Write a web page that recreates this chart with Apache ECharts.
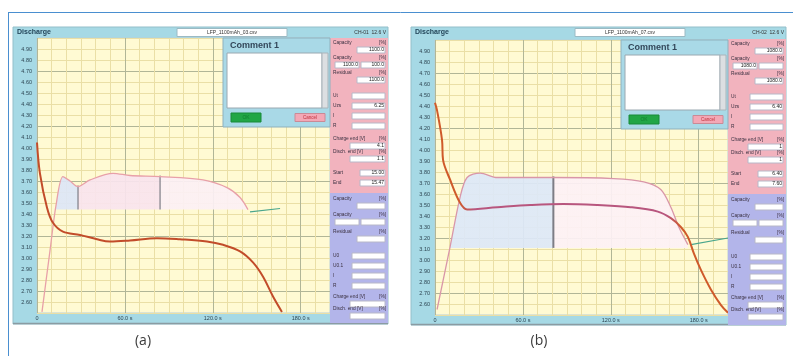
<!DOCTYPE html>
<html><head><meta charset="utf-8">
<script src="https://cdn.jsdelivr.net/npm/echarts@6/dist/echarts.min.js"></script>
<style>html,body{margin:0;padding:0;background:#fff}#c{width:793px;height:356px}</style>
</head><body><div id="c"></div>
<script>
// ---------------- data ----------------
const xMin = 0, xMax = 200, xStep = 10, xLabelStep = 60;
const yMin = 2.5, yMax = 5.0, yStep = 0.1;

// panel (a)
const aRedX = [0, 2, 6.8, 10.9, 17.7, 29.4, 41, 49.8, 63.5, 81.9, 97.6, 116, 127, 138.6, 147.4, 154.3, 161.1, 167.2];
const aRedV = [4.05, 3.77, 3.46, 3.32, 3.24, 3.21, 3.17, 3.15, 3.16, 3.18, 3.17, 3.15, 3.12, 3.06, 2.96, 2.83, 2.65, 2.51];
const aPinkX = [3.4, 8.9, 13.0, 17.7, 22.5, 28.0, 36.2, 51.9, 63.5, 84.0, 113.3, 129.7, 138.6, 144.0];
const aPinkV = [2.51, 3.07, 3.48, 3.74, 3.70, 3.65, 3.71, 3.77, 3.75, 3.74, 3.71, 3.64, 3.55, 3.44];
const aGreenX = [145.4, 165.9];
const aGreenV = [3.42, 3.45];
const aFillBase = 3.44;
const aCutX = [28.0, 84.0];
const aCutTopV = [3.66, 3.75];

// panel (b)
const bRedX = [0, 1.4, 4.8, 5.5, 10.3, 17.1, 21.9, 42.5, 65.1, 87.7, 111.0, 133.6, 152.1, 161.0, 167.8, 172.6, 176.7, 181.5, 188.4, 195.2, 200];
const bRedV = [4.43, 4.36, 4.09, 3.91, 3.73, 3.52, 3.46, 3.48, 3.50, 3.51, 3.50, 3.48, 3.44, 3.38, 3.30, 3.21, 3.06, 2.91, 2.73, 2.59, 2.52];
const bRedPlateau = [21.9, 163.0];
const bPinkX = [1.4, 10.3, 17.1, 21.9, 30.8, 42.5, 80.8, 121.9, 142.5, 154.1, 161.0, 166.4, 172.6];
const bPinkV = [2.55, 3.12, 3.57, 3.75, 3.79, 3.75, 3.75, 3.74, 3.71, 3.64, 3.48, 3.30, 3.14];
const bGreenX = [174.7, 200];
const bGreenV = [3.14, 3.20];
const bFillBase = 3.11;
const bCutX = [80.8];
const bCutTopV = [3.76];

// side-panel texts
const aTitle = ['Discharge', 'LFP_1100mAh_03.csv', 'CH-01  12.6 V'];
const bTitle = ['Discharge', 'LFP_1100mAh_07.csv', 'CH-02  12.6 V'];
const aSideVals = ['1100.0', '1100.0', '100.0', '1100.0', '', '6.25', '', '', '4.1', '1.1', '15.00', '15.47'];
const bSideVals = ['1080.0', '1080.0', '', '1080.0', '', '6.40', '', '', '1', '1', '6.40', '7.60'];
const captions = ['(a)', '(b)'];

// ---------------- helpers ----------------
const pairs = (xs, ys) => xs.map((x, i) => [x, ys[i]]);
const FONT = 'Liberation Sans';
const C_MAJOR = '#b1b697', C_MINOR = '#eadfa6';
const C_STRIP = '#a6d9e5', C_PINK = '#f2b3be', C_LAV = '#b3b5ea';

function xAx(gi) {
  return {type: 'value', gridIndex: gi, min: xMin, max: xMax, interval: xStep,
    axisLine: {show: false}, axisTick: {show: false},
    axisLabel: {fontSize: 5.5, color: '#2d4552', margin: 2, fontFamily: FONT,
      formatter: v => (Math.round(v) % xLabelStep === 0) ? (v === 0 ? '0' : v.toFixed(1) + ' s') : ''},
    splitLine: {show: true, lineStyle: {width: 1, color: [C_MAJOR, C_MINOR, C_MINOR, C_MINOR, C_MINOR, C_MINOR]}}};
}
function yAx(gi) {
  return {type: 'value', gridIndex: gi, min: yMin, max: yMax, interval: yStep,
    axisLine: {show: false}, axisTick: {show: false},
    axisLabel: {fontSize: 5.5, color: '#2d4552', margin: 5, fontFamily: FONT,
      showMinLabel: false, showMaxLabel: false, formatter: v => v.toFixed(2)},
    splitLine: {show: true, lineStyle: {width: 1, color: [C_MINOR, C_MINOR, C_MAJOR, C_MINOR, C_MINOR]}}};
}

function fillSeries(gi, px, pv, base, cuts, colors) {
  const pts = pairs(px, pv).filter(p => p[1] >= base - 0.02);
  const x0 = pts[0][0], x1 = pts[pts.length - 1][0];
  const stops = [{offset: 0, color: colors[0]}];
  cuts.forEach((c, i) => {
    const o = (c - x0) / (x1 - x0);
    stops.push({offset: o, color: colors[i]});
    stops.push({offset: o, color: colors[i + 1]});
  });
  stops.push({offset: 1, color: colors[cuts.length]});
  return {type: 'line', xAxisIndex: gi, yAxisIndex: gi, data: pts, symbol: 'none', smooth: 0.3,
    lineStyle: {width: 0}, z: 2,
    areaStyle: {origin: base, opacity: 0.92,
      color: new echarts.graphic.LinearGradient(0, 0, 1, 0, stops)}};
}
function cutSeries(gi, cx, ctop, base, w) {
  return cx.map((x, i) => ({type: 'line', xAxisIndex: gi, yAxisIndex: gi,
    data: [[x, base], [x, ctop[i]]], symbol: 'none', lineStyle: {color: '#7d7d85', width: w}, z: 4}));
}
function plateauGradient(xs, range, outer, inner) {
  const x0 = xs[0], x1 = xs[xs.length - 1];
  const o1 = (range[0] - x0) / (x1 - x0), o2 = (range[1] - x0) / (x1 - x0);
  return new echarts.graphic.LinearGradient(0, 0, 1, 0, [
    {offset: 0, color: outer}, {offset: o1 - 0.02, color: outer}, {offset: o1 + 0.03, color: inner},
    {offset: o2 - 0.03, color: inner}, {offset: o2 + 0.02, color: outer}, {offset: 1, color: outer}]);
}

// ---------------- chrome (graphic) ----------------
const G = [];
function rect(x, y, w, h, fill, stroke, z) {
  G.push({type: 'rect', z: z, shape: {x: x, y: y, width: w, height: h},
    style: {fill: fill, stroke: stroke || null, lineWidth: stroke ? 1 : 0}});
}
function txt(x, y, s, size, fill, align, weight, z) {
  G.push({type: 'text', z: z, style: {x: x, y: y, text: s, fill: fill || '#333',
    fontSize: size, fontFamily: FONT, fontWeight: weight || 'normal',
    align: align || 'left', verticalAlign: 'middle'}});
}

function panel(dx, dy, title, vals, plotTop, plotBottom) {
  rect(13 + dx, 27, 375, 297 + dy, C_STRIP, '#93bfca', -5);
  G.push({type: 'line', z: -4, shape: {x1: 13 + dx, y1: 323.5 + dy, x2: 388 + dx, y2: 323.5 + dy},
    style: {stroke: '#8b9ba2', lineWidth: 1.5}});
  txt(17 + dx, 32.5, title[0], 7, '#24465a', 'left', 'bold', 10);
  rect(177 + dx, 28.5, 110, 8, '#ffffff', '#9bbac4', 10);
  txt(232 + dx, 32.5, title[1], 5, '#333', 'center', 'normal', 11);
  txt(386 + dx, 32.5, title[2], 5, '#333', 'right', 'normal', 11);
  const sx = 330 + dx, sy = dy;
  rect(sx, plotTop, 58, 193 + sy - plotTop, C_PINK, null, 10);
  rect(sx, 193 + sy, 58, plotBottom + 10 - 193 - sy, C_LAV, null, 10);
  const rows = [
    {t: 'Capacity', r: '[%]', y: 43, boxes: [[27, 47, 28, 0]]},
    {t: 'Capacity', r: '[%]', y: 58, boxes: [[5, 62, 24, 1], [31, 62, 24, 2]]},
    {t: 'Residual', r: '[%]', y: 73, boxes: [[27, 77, 28, 3]]},
    {t: 'Ut', y: 96, boxes: [[22, 93, 33, 4]]},
    {t: 'Uzs', y: 106, boxes: [[22, 103, 33, 5]]},
    {t: 'I', y: 116, boxes: [[22, 113, 33, 6]]},
    {t: 'R', y: 126, boxes: [[22, 123, 33, 7]]},
    {t: 'Charge end [V]', r: '[%]', y: 139, boxes: [[20, 143, 35, 8]]},
    {t: 'Disch. end [V]', r: '[%]', y: 152, boxes: [[20, 156, 35, 9]]},
    {t: 'Start', y: 173, boxes: [[30, 170, 25, 10]]},
    {t: 'End', y: 183, boxes: [[30, 180, 25, 11]]},
    {t: 'Capacity', r: '[%]', y: 199, boxes: [[27, 203, 28, -1]]},
    {t: 'Capacity', r: '[%]', y: 215, boxes: [[5, 219, 24, -1], [31, 219, 24, -1]]},
    {t: 'Residual', r: '[%]', y: 232, boxes: [[27, 236, 28, -1]]},
    {t: 'U0', y: 256, boxes: [[22, 253, 33, -1]]},
    {t: 'U0.1', y: 266, boxes: [[22, 263, 33, -1]]},
    {t: 'I', y: 276, boxes: [[22, 273, 33, -1]]},
    {t: 'R', y: 286, boxes: [[22, 283, 33, -1]]},
    {t: 'Charge end [V]', r: '[%]', y: 297, boxes: [[20, 301, 35, -1]]},
    {t: 'Disch. end [V]', r: '[%]', y: 309, boxes: [[20, 313, 35, -1]]}
  ];
  rows.forEach(r => {
    txt(sx + 3, r.y + sy, r.t, 4.8, '#3a3040', 'left', 'normal', 12);
    if (r.r) txt(sx + 56, r.y + sy, r.r, 4.8, '#3a3040', 'right', 'normal', 12);
    r.boxes.forEach(b => {
      rect(sx + b[0], b[1] + sy, b[2], 6, '#ffffff', '#b8b8c8', 12);
      const v = b[3] >= 0 ? vals[b[3]] : '';
      if (v) txt(sx + b[0] + b[2] - 1, b[1] + sy + 3, v, 5, '#222', 'right', 'normal', 13);
    });
  });
}

function comment(x, y) {
  rect(x, y, 107, 89, '#a9d9e7', '#8fb1bd', 60);
  txt(x + 7, y + 7.5, 'Comment 1', 9, '#33475a', 'left', 'bold', 61);
  rect(x + 4, y + 15, 95, 55, '#ffffff', '#9aa8b0', 61);
  rect(x + 99, y + 15, 6, 55, '#dcdfe2', '#aab4ba', 61);
  rect(x + 8, y + 75, 30, 9, '#21a646', '#198a38', 61);
  txt(x + 23, y + 79.5, 'OK', 5, '#118030', 'center', 'normal', 62);
  rect(x + 72, y + 75.5, 30, 8, '#f3a8b6', '#c98a96', 61);
  txt(x + 87, y + 79.5, 'Cancel', 4.5, '#c0303a', 'center', 'normal', 62);
}

G.push({type: 'line', z: 1, shape: {x1: 8, y1: 12.5, x2: 793, y2: 12.5}, style: {stroke: '#4a8fd0', lineWidth: 1}});
G.push({type: 'line', z: 1, shape: {x1: 8.5, y1: 12, x2: 8.5, y2: 356}, style: {stroke: '#4a8fd0', lineWidth: 1}});

panel(0, 0, aTitle, aSideVals, 38, 313);
panel(398, 1, bTitle, bSideVals, 39, 315);
comment(223, 38);
comment(621, 40);
G.push({type: 'text', z: 5, style: {x: 143, y: 341, text: captions[0], fill: '#3a3a3a', fontSize: 14, fontFamily: 'Open Sans', align: 'center', verticalAlign: 'middle'}});
G.push({type: 'text', z: 5, style: {x: 539, y: 341, text: captions[1], fill: '#3a3a3a', fontSize: 14, fontFamily: 'Open Sans', align: 'center', verticalAlign: 'middle'}});

// ---------------- option ----------------
const gridStyle = {show: true, backgroundColor: '#fffad3', borderColor: '#b9cfd4', borderWidth: 1, containLabel: false};
const option = {
  animation: false,
  backgroundColor: '#ffffff',
  grid: [
    Object.assign({left: 37, top: 38, width: 293, height: 275}, gridStyle),
    Object.assign({left: 435, top: 40, width: 293, height: 275}, gridStyle)
  ],
  xAxis: [xAx(0), xAx(1)],
  yAxis: [yAx(0), yAx(1)],
  graphic: {elements: G},
  series: [
    fillSeries(0, aPinkX, aPinkV, aFillBase, aCutX, ['#dde6f7', '#f9e4ee', '#fcf0f5']),
    ...cutSeries(0, aCutX, aCutTopV, aFillBase, 1.2),
    {type: 'line', xAxisIndex: 0, yAxisIndex: 0, data: pairs(aPinkX, aPinkV), symbol: 'none', smooth: 0.3,
      lineStyle: {color: '#e8a0a8', width: 1.3}, z: 5},
    {type: 'line', xAxisIndex: 0, yAxisIndex: 0, data: pairs(aGreenX, aGreenV), symbol: 'none',
      lineStyle: {color: '#4aa68c', width: 1.2}, z: 5},
    {type: 'line', xAxisIndex: 0, yAxisIndex: 0, data: pairs(aRedX, aRedV), symbol: 'none', smooth: 0.35,
      lineStyle: {color: '#c24c2a', width: 2}, z: 6},

    fillSeries(1, bPinkX, bPinkV, bFillBase, bCutX, ['#dde8f8', '#fdf1f6']),
    ...cutSeries(1, bCutX, bCutTopV, bFillBase, 2),
    {type: 'line', xAxisIndex: 1, yAxisIndex: 1, data: pairs(bPinkX, bPinkV), symbol: 'none', smooth: 0.3,
      lineStyle: {color: '#d996a8', width: 1.3}, z: 5},
    {type: 'line', xAxisIndex: 1, yAxisIndex: 1, data: pairs(bGreenX, bGreenV), symbol: 'none',
      lineStyle: {color: '#4aa68c', width: 1.2}, z: 5},
    {type: 'line', xAxisIndex: 1, yAxisIndex: 1, data: pairs(bRedX, bRedV), symbol: 'none', smooth: 0.35,
      lineStyle: {color: plateauGradient(bRedX, bRedPlateau, '#cf5a2a', '#b8567e'), width: 2}, z: 6}
  ]
};
const chart = echarts.init(document.getElementById('c'));
chart.setOption(option);
</script>
</body></html>
